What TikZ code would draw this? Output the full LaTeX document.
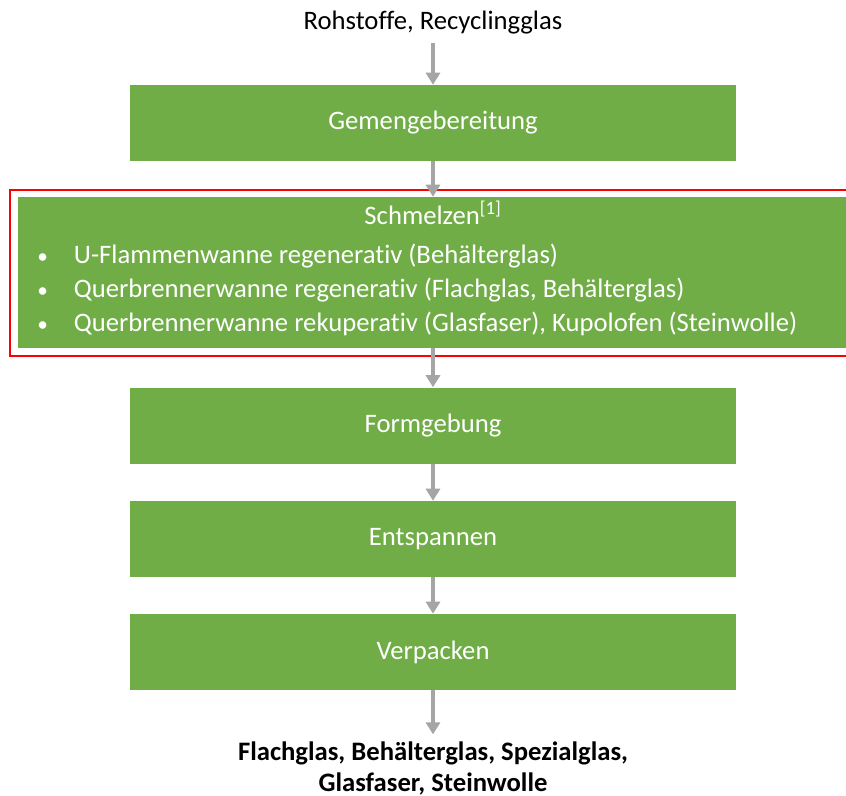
\documentclass[tikz,border=0pt]{standalone}
\usepackage{fontspec}
\setmainfont{Carlito}[Ligatures=NoCommon]
\usetikzlibrary{positioning,arrows.meta}
\definecolor{stagegreen}{HTML}{70AD47}
\definecolor{flowgray}{HTML}{A5A5A5}
\definecolor{markred}{HTML}{FF0000}

\begin{document}
\begin{tikzpicture}[
  x=0.75pt, y=-0.75pt,
  txt/.style={font=\fontsize{20}{23}\selectfont, inner sep=2pt},
  stage/.style={fill=stagegreen, text=white, font=\fontsize{20}{23}\selectfont, minimum width=454.5pt, minimum height=57pt, inner sep=0pt},
  meltbox/.style={fill=stagegreen, minimum width=625.5pt, minimum height=113.25pt, inner sep=0pt},
  redframe/.style={draw=markred, line width=1.8pt, minimum width=639pt, minimum height=124.5pt, inner sep=0pt},
  itm/.style={txt, text=white, anchor=west, inner sep=0pt},
  flow/.style={draw=flowgray, line width=3pt, -{Triangle[width=10.5pt,length=9pt]}}
]
\clip (0,0) rectangle (846,796);

% --- input ---
\node[txt] (src) at (433,23) {Rohstoffe, Recyclingglas};

% --- stages ---
\node[stage] (gem) at (433,123) {Gemengebereitung};

\node[redframe] (frame) at (436,273) {};
\node[meltbox] (melt) at (435,272.5) {};
\node[txt, text=white] (meltT) at (433,213) {Schmelzen\textsuperscript{[1]}};
\node[itm] (b1) at (37,256) {\makebox[27.5pt][l]{\scalebox{0.8}{\textbullet}}U-Flammenwanne regenerativ (Behälterglas)};
\node[itm] (b2) at (37,290) {\makebox[27.5pt][l]{\scalebox{0.8}{\textbullet}}Querbrennerwanne regenerativ (Flachglas, Behälterglas)};
\node[itm] (b3) at (37,324) {\makebox[27.5pt][l]{\scalebox{0.8}{\textbullet}}Querbrennerwanne rekuperativ (Glasfaser), Kupolofen (Steinwolle)};

\node[stage] (form) at (433,425.5) {Formgebung};
\node[stage] (entsp) at (433,539) {Entspannen};
\node[stage] (pack) at (433,652) {Verpacken};

% --- output ---
\node[txt, font=\fontsize{20}{23.25}\selectfont\bfseries, align=center] (prod) at (433,768) {Flachglas, Behälterglas, Spezialglas,\\Glasfaser, Steinwolle};

% --- flow arrows ---
\draw[flow, shorten <=4pt] (src.south) -- (gem.north);
\draw[flow] (gem.south) -- (gem.south |- melt.north);
\draw[flow] (form.north |- melt.south) -- (form.north);
\draw[flow] (form.south) -- (entsp.north);
\draw[flow] (entsp.south) -- (pack.north);
\draw[flow, shorten >=3pt] (pack.south) -- (prod.north);

\end{tikzpicture}
\end{document}
